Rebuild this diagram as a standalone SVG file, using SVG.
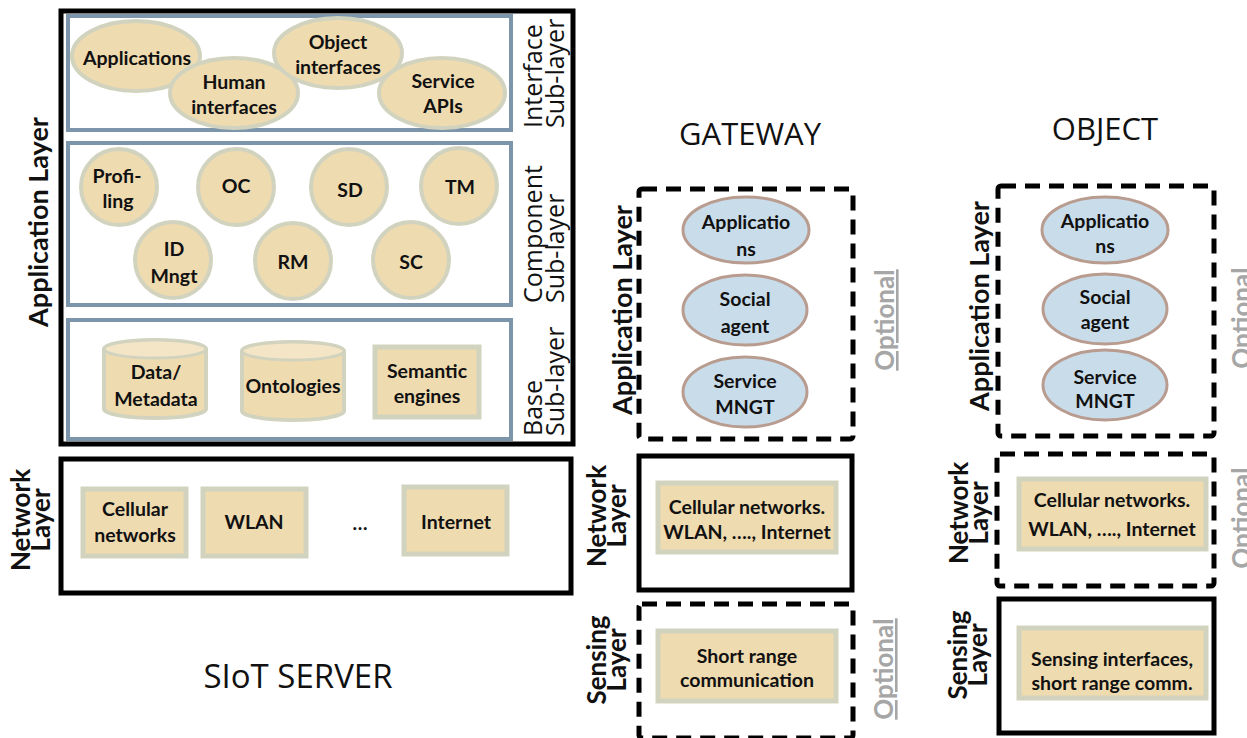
<svg xmlns="http://www.w3.org/2000/svg" width="1247" height="738" viewBox="0 0 1247 738">
<style>
.t{font-family:Lato,"Liberation Sans",sans-serif;font-weight:bold;font-size:19.5px;fill:#111;text-anchor:middle}
.lbl{font-family:Lato,"Liberation Sans",sans-serif;font-weight:bold;font-size:27px;fill:#111;text-anchor:middle}
.lbl2{font-family:Lato,"Liberation Sans",sans-serif;font-weight:bold;font-size:26px;fill:#111;text-anchor:middle}
.sub{font-family:"Open Sans","Liberation Sans",sans-serif;font-size:25px;fill:#111;text-anchor:start}
.ttl{font-family:"Open Sans","Liberation Sans",sans-serif;font-size:31px;fill:#111;text-anchor:middle}
.opt{font-family:Lato,"Liberation Sans",sans-serif;font-weight:bold;font-size:26px;fill:#a6a6a6;text-anchor:middle;text-decoration:underline}
.tan{fill:#efdbb0;stroke:#d2d3bf;stroke-width:4}
.tanr{fill:#efdbb0;stroke:#d2d3bf;stroke-width:5}
.blue{fill:#c9dcea;stroke:#b99c90;stroke-width:3}
.sub-box{fill:#fff;stroke:#7d95aa;stroke-width:4}
.solid{fill:none;stroke:#000;stroke-width:5}
.dash{fill:none;stroke:#000;stroke-width:5;stroke-dasharray:15 9}
</style>

<g id="server">
  <rect class="solid" x="61" y="11" width="512" height="433"/>
  <g id="interface-sublayer">
    <rect class="sub-box" x="68" y="16" width="443" height="114"/>
    <text class="sub" transform="translate(542,128) rotate(-90)"><tspan x="0" y="0">Interface</tspan><tspan x="0" y="22">Sub-layer</tspan></text>
  </g>
  <g id="applications"><ellipse class="tan" cx="136" cy="56" rx="64" ry="35"/><text class="t" x="137" y="65">Applications</text></g>
  <g id="human-interfaces"><ellipse class="tan" cx="234" cy="93" rx="64" ry="35"/><text class="t" x="234" y="89">Human</text><text class="t" x="234" y="114">interfaces</text></g>
  <g id="object-interfaces"><ellipse class="tan" cx="338" cy="53" rx="64" ry="35"/><text class="t" x="338" y="49">Object</text><text class="t" x="338" y="74">interfaces</text></g>
  <g id="service-apis"><ellipse class="tan" cx="442" cy="93" rx="63" ry="35"/><text class="t" x="443" y="88">Service</text><text class="t" x="443" y="113">APIs</text></g>

  <g id="component-sublayer">
    <rect class="sub-box" x="68" y="143" width="443" height="162"/>
    <text class="sub" transform="translate(542,303) rotate(-90)"><tspan x="0" y="0">Component</tspan><tspan x="0" y="22">Sub-layer</tspan></text>
  </g>
  <g id="profiling"><circle class="tan" cx="119" cy="187" r="38"/><text class="t" x="117" y="183">Profi-</text><text class="t" x="118" y="208">ling</text></g>
  <g id="oc"><circle class="tan" cx="236" cy="187" r="38"/><text class="t" x="236" y="193">OC</text></g>
  <g id="sd"><circle class="tan" cx="349" cy="187" r="38"/><text class="t" x="350" y="197">SD</text></g>
  <g id="tm"><circle class="tan" cx="459" cy="186" r="38"/><text class="t" x="460" y="194">TM</text></g>
  <g id="id-mngt"><circle class="tan" cx="173" cy="260" r="38"/><text class="t" x="174" y="256">ID</text><text class="t" x="174" y="283">Mngt</text></g>
  <g id="rm"><circle class="tan" cx="293" cy="261" r="38"/><text class="t" x="293" y="269">RM</text></g>
  <g id="sc"><circle class="tan" cx="411" cy="260" r="38"/><text class="t" x="411" y="269">SC</text></g>

  <g id="base-sublayer">
    <rect class="sub-box" x="68" y="320" width="443" height="119"/>
    <text class="sub" transform="translate(542,436) rotate(-90)"><tspan x="0" y="0">Base</tspan><tspan x="0" y="22">Sub-layer</tspan></text>
  </g>
  <g id="data-metadata">
    <path class="tan" d="M104,349 V409 A51,9 0 0 0 206,409 V349 A51,9 0 0 0 104,349 Z"/>
    <ellipse cx="155" cy="349" rx="51" ry="9" fill="#f4e5c6" stroke="#d2d3bf" stroke-width="3"/>
    <text class="t" x="156" y="379">Data/</text><text class="t" x="156" y="406">Metadata</text>
  </g>
  <g id="ontologies">
    <path class="tan" d="M242,351 V411 A51,9 0 0 0 344,411 V351 A51,9 0 0 0 242,351 Z"/>
    <ellipse cx="293" cy="351" rx="51" ry="9" fill="#f4e5c6" stroke="#d2d3bf" stroke-width="3"/>
    <text class="t" x="293" y="393">Ontologies</text>
  </g>
  <g id="semantic-engines"><rect class="tanr" x="375" y="347" width="104" height="70"/><text class="t" x="427" y="378">Semantic</text><text class="t" x="427" y="403">engines</text></g>

  <text class="lbl" transform="translate(48,222) rotate(-90)">Application Layer</text>

  <g id="server-network">
    <rect class="solid" x="61" y="459" width="510" height="134"/>
    <text class="lbl2" transform="translate(30,520) rotate(-90)"><tspan x="0" y="0">Network</tspan><tspan x="0" y="20">Layer</tspan></text>
  </g>
  <g id="cellular"><rect class="tanr" x="83" y="489" width="103" height="67"/><text class="t" x="135" y="516">Cellular</text><text class="t" x="135" y="542">networks</text></g>
  <g id="wlan"><rect class="tanr" x="203" y="489" width="103" height="67"/><text class="t" x="254" y="529">WLAN</text></g>
  <text class="t" x="360" y="530">…</text>
  <g id="internet"><rect class="tanr" x="404" y="487" width="103" height="67"/><text class="t" x="456" y="529">Internet</text></g>
  <text class="ttl" x="298" y="688" style="font-size:33px">SIoT SERVER</text>
</g>

<g id="gateway">
  <text class="ttl" x="750" y="145">GATEWAY</text>
  <g id="gw-app">
    <rect class="dash" x="639" y="189" width="214" height="250" rx="3"/>
    <text class="lbl" transform="translate(632,310) rotate(-90)">Application Layer</text>
    <text class="opt" transform="translate(894,320) rotate(-90)">Optional</text>
  </g>
  <g id="gw-applications"><ellipse class="blue" cx="746" cy="230" rx="63" ry="33"/><text class="t" x="746" y="229">Applicatio</text><text class="t" x="746" y="256">ns</text></g>
  <g id="gw-social"><ellipse class="blue" cx="745" cy="310" rx="62" ry="35"/><text class="t" x="745" y="306">Social</text><text class="t" x="745" y="333">agent</text></g>
  <g id="gw-service"><ellipse class="blue" cx="745" cy="392" rx="62" ry="35"/><text class="t" x="745" y="388">Service</text><text class="t" x="745" y="414">MNGT</text></g>
  <g id="gw-network">
    <rect class="solid" x="639" y="456" width="213" height="134"/>
    <text class="lbl2" transform="translate(606,516) rotate(-90)"><tspan x="0" y="0">Network</tspan><tspan x="0" y="20">Layer</tspan></text>
    <rect class="tanr" x="658" y="483" width="178" height="69"/>
    <text class="t" x="747" y="514">Cellular networks.</text><text class="t" x="747" y="539">WLAN, …., Internet</text>
  </g>
  <g id="gw-sensing">
    <rect class="dash" x="639" y="604" width="214" height="134" rx="3"/>
    <text class="lbl2" transform="translate(606,660) rotate(-90)"><tspan x="0" y="0">Sensing</tspan><tspan x="0" y="20">Layer</tspan></text>
    <text class="opt" transform="translate(893,669) rotate(-90)">Optional</text>
    <rect class="tanr" x="658" y="631" width="178" height="70"/>
    <text class="t" x="747" y="663">Short range</text><text class="t" x="747" y="687">communication</text>
  </g>
</g>

<g id="object">
  <text class="ttl" x="1105" y="140">OBJECT</text>
  <g id="obj-app">
    <rect class="dash" x="998" y="186" width="216" height="250" rx="3"/>
    <text class="lbl" transform="translate(989,306) rotate(-90)">Application Layer</text>
    <text class="opt" transform="translate(1251,318) rotate(-90)">Optional</text>
  </g>
  <g id="obj-applications"><ellipse class="blue" cx="1105" cy="230" rx="63" ry="33"/><text class="t" x="1105" y="228">Applicatio</text><text class="t" x="1105" y="253">ns</text></g>
  <g id="obj-social"><ellipse class="blue" cx="1105" cy="309" rx="62" ry="35"/><text class="t" x="1105" y="304">Social</text><text class="t" x="1105" y="329">agent</text></g>
  <g id="obj-service"><ellipse class="blue" cx="1105" cy="385" rx="62" ry="35"/><text class="t" x="1105" y="384">Service</text><text class="t" x="1105" y="408">MNGT</text></g>
  <g id="obj-network">
    <rect class="dash" x="997" y="454" width="217" height="132" rx="3"/>
    <text class="lbl2" transform="translate(968,513) rotate(-90)"><tspan x="0" y="0">Network</tspan><tspan x="0" y="20">Layer</tspan></text>
    <text class="opt" transform="translate(1251,518) rotate(-90)">Optional</text>
    <rect class="tanr" x="1019" y="479" width="187" height="70"/>
    <text class="t" x="1112" y="507">Cellular networks.</text><text class="t" x="1112" y="536">WLAN, …., Internet</text>
  </g>
  <g id="obj-sensing">
    <rect class="solid" x="999" y="599" width="215" height="134"/>
    <text class="lbl2" transform="translate(967,655) rotate(-90)"><tspan x="0" y="0">Sensing</tspan><tspan x="0" y="20">Layer</tspan></text>
    <rect class="tanr" x="1019" y="628" width="187" height="70"/>
    <text class="t" x="1112" y="666">Sensing interfaces,</text><text class="t" x="1112" y="690">short range comm.</text>
  </g>
</g>

<g id="connectors"/>
</svg>
